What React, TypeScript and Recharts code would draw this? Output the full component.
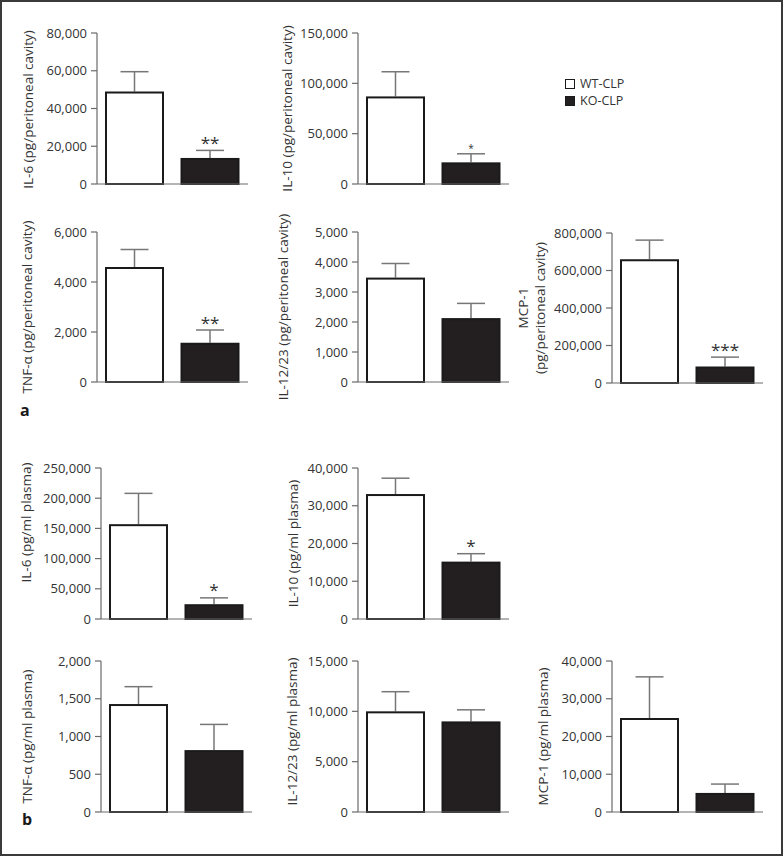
import { BarChart, Bar, XAxis, YAxis, Label } from 'recharts'

const GROUPS = ['WT-CLP', 'KO-CLP']
const GROUP_FILLS = ['#ffffff', '#231f20']

// a: peritoneal cavity (mean, upper SEM)
const IL6_PERITONEAL = [49000, 13800]
const IL6_PERITONEAL_SEM = [10500, 4000]
const IL10_PERITONEAL = [87000, 21500]
const IL10_PERITONEAL_SEM = [24500, 8500]
const TNF_PERITONEAL = [4600, 1570]
const TNF_PERITONEAL_SEM = [700, 510]
const IL1223_PERITONEAL = [3480, 2130]
const IL1223_PERITONEAL_SEM = [470, 490]
const MCP1_PERITONEAL = [660000, 88000]
const MCP1_PERITONEAL_SEM = [102000, 50000]

// b: plasma
const IL6_PLASMA = [157000, 24500]
const IL6_PLASMA_SEM = [51000, 10500]
const IL10_PLASMA = [33100, 15200]
const IL10_PLASMA_SEM = [4200, 2100]
const TNF_PLASMA = [1430, 820]
const TNF_PLASMA_SEM = [230, 340]
const IL1223_PLASMA = [10000, 9000]
const IL1223_PLASMA_SEM = [1950, 1150]
const MCP1_PLASMA = [24900, 5050]
const MCP1_PLASMA_SEM = [10900, 2350]

// tick labels
const TICKS_IL6_PERITONEAL = [0, 20000, 40000, 60000, 80000]
const TICKS_IL10_PERITONEAL = [0, 50000, 100000, 150000]
const TICKS_TNF_PERITONEAL = [0, 2000, 4000, 6000]
const TICKS_IL1223_PERITONEAL = [0, 1000, 2000, 3000, 4000, 5000]
const TICKS_MCP1_PERITONEAL = [0, 200000, 400000, 600000, 800000]
const TICKS_IL6_PLASMA = [0, 50000, 100000, 150000, 200000, 250000]
const TICKS_IL10_PLASMA = [0, 10000, 20000, 30000, 40000]
const TICKS_TNF_PLASMA = [0, 500, 1000, 1500, 2000]
const TICKS_IL1223_PLASMA = [0, 5000, 10000, 15000]
const TICKS_MCP1_PLASMA = [0, 10000, 20000, 30000, 40000]

const FONT = "'Open Sans', 'DejaVu Sans', sans-serif"
const TEXT = '#333333'
const AXIS = '#6a6a6a'
const ERR = '#777777'
const Y_AXIS_W = 100
const PLOT_W = 151
const PAD = 30

type Panel = {
    title: string[]
    means: number[]
    sems: number[]
    ticks: number[]
    star: string
    starSize: number
    axisX: number
    topY: number
    zeroY: number
    labelDist: number[]
    labelDy: number
}

const PANELS: Panel[] = [
    { title: ['IL-6 (pg/peritoneal cavity)'], means: IL6_PERITONEAL, sems: IL6_PERITONEAL_SEM, ticks: TICKS_IL6_PERITONEAL, star: '**', starSize: 17, axisX: 97, topY: 33, zeroY: 184, labelDist: [69], labelDy: 1 },
    { title: ['IL-10 (pg/peritoneal cavity)'], means: IL10_PERITONEAL, sems: IL10_PERITONEAL_SEM, ticks: TICKS_IL10_PERITONEAL, star: '*', starSize: 10, axisX: 358, topY: 33, zeroY: 184, labelDist: [71], labelDy: 0 },
    { title: ['TNF-α (pg/peritoneal cavity)'], means: TNF_PERITONEAL, sems: TNF_PERITONEAL_SEM, ticks: TICKS_TNF_PERITONEAL, star: '**', starSize: 17, axisX: 97, topY: 232, zeroY: 382, labelDist: [70], labelDy: 0 },
    { title: ['IL-12/23 (pg/peritoneal cavity)'], means: IL1223_PERITONEAL, sems: IL1223_PERITONEAL_SEM, ticks: TICKS_IL1223_PERITONEAL, star: '', starSize: 17, axisX: 358, topY: 232, zeroY: 382, labelDist: [75], labelDy: 0 },
    { title: ['MCP-1', '(pg/peritoneal cavity)'], means: MCP1_PERITONEAL, sems: MCP1_PERITONEAL_SEM, ticks: TICKS_MCP1_PERITONEAL, star: '***', starSize: 17, axisX: 612, topY: 233, zeroY: 383, labelDist: [89, 72], labelDy: 0 },
    { title: ['IL-6 (pg/ml plasma)'], means: IL6_PLASMA, sems: IL6_PLASMA_SEM, ticks: TICKS_IL6_PLASMA, star: '*', starSize: 17, axisX: 101, topY: 468, zeroY: 619, labelDist: [75], labelDy: -21 },
    { title: ['IL-10 (pg/ml plasma)'], means: IL10_PLASMA, sems: IL10_PLASMA_SEM, ticks: TICKS_IL10_PLASMA, star: '*', starSize: 17, axisX: 358, topY: 468, zeroY: 619, labelDist: [65], labelDy: 0 },
    { title: ['TNF-α (pg/ml plasma)'], means: TNF_PLASMA, sems: TNF_PLASMA_SEM, ticks: TICKS_TNF_PLASMA, star: '', starSize: 17, axisX: 101, topY: 661, zeroY: 812, labelDist: [74], labelDy: 0 },
    { title: ['IL-12/23 (pg/ml plasma)'], means: IL1223_PLASMA, sems: IL1223_PLASMA_SEM, ticks: TICKS_IL1223_PLASMA, star: '', starSize: 17, axisX: 358, topY: 661, zeroY: 812, labelDist: [66], labelDy: -5 },
    { title: ['MCP-1 (pg/ml plasma)'], means: MCP1_PLASMA, sems: MCP1_PLASMA_SEM, ticks: TICKS_MCP1_PLASMA, star: '', starSize: 17, axisX: 612, topY: 661, zeroY: 812, labelDist: [69], labelDy: 0 },
]

// bar + upper error whisker + significance stars
const BarWithError = (props: any) => {
    const { x, y, width, height, payload } = props
    if (!payload || !height) return null
    const cx = x + width / 2
    const errTop = y - (height * payload.sem) / payload.mean
    return (
        <g>
            <line x1={cx} y1={y} x2={cx} y2={errTop} stroke={ERR} strokeWidth={1.5} />
            <line x1={cx - 14} y1={errTop} x2={cx + 14} y2={errTop} stroke={ERR} strokeWidth={1.5} />
            <rect x={x + 1} y={y + 1} width={width - 2} height={height - 1} fill={payload.fill} stroke="#1a1a1a" strokeWidth={2} />
            {payload.star && (
                <text x={cx} y={errTop - 1.5} textAnchor="middle" fontSize={payload.starSize} fill={TEXT} fontFamily={FONT}>
                    {payload.star}
                </text>
            )}
        </g>
    )
}

const yLabel = (lines: string[], dists: number[], dy: number) => (props: any) => {
    const vb = props.viewBox || { x: 0, y: PAD, width: Y_AXIS_W, height: 150 }
    const cy = vb.y + vb.height / 2 + dy
    return (
        <g>
            {lines.map((line, i) => {
                const cx = vb.x + vb.width - dists[i]
                return (
                    <text key={i} x={cx} y={cy} transform={`rotate(-90, ${cx}, ${cy})`} textAnchor="middle"
                        dominantBaseline="central" fontSize={13.5} fill={TEXT} fontFamily={FONT}>
                        {line}
                    </text>
                )
            })}
        </g>
    )
}

function CytokinePanel({ p }: { p: Panel }) {
    const data = GROUPS.map((g, i) => ({
        group: g,
        mean: p.means[i],
        sem: p.sems[i],
        fill: GROUP_FILLS[i],
        star: i === 1 ? p.star : '',
        starSize: p.starSize
    }))
    const plotH = p.zeroY - p.topY
    return (
        <div style={{ position: 'absolute', left: p.axisX - Y_AXIS_W, top: p.topY - PAD }}>
            <BarChart width={Y_AXIS_W + PLOT_W + 2} height={plotH + PAD * 2 + 1} data={data}
                margin={{ top: PAD, right: 2, bottom: PAD, left: 0 }} barSize={59}>
                <XAxis dataKey="group" tick={false} tickLine={false} height={1} axisLine={{ stroke: AXIS, strokeWidth: 1.2 }} />
                <YAxis width={Y_AXIS_W} domain={[0, p.ticks[p.ticks.length - 1]]} ticks={p.ticks} interval={0}
                    tickFormatter={(v) => v.toLocaleString('en-US')} tickSize={6} tickMargin={4}
                    axisLine={{ stroke: AXIS, strokeWidth: 1.2 }} tickLine={{ stroke: AXIS, strokeWidth: 1.2 }}
                    tick={{ fill: TEXT, fontSize: 13, fontFamily: FONT }}>
                    <Label content={yLabel(p.title, p.labelDist, p.labelDy)} />
                </YAxis>
                <Bar dataKey="mean" shape={BarWithError} isAnimationActive={false} />
            </BarChart>
        </div>
    )
}

export default function App() {
    return (
        <div style={{ position: 'absolute', left: 0, top: 0, width: 783, height: 856, boxSizing: 'border-box', border: '2px solid #3a3a3a', background: '#fff', fontFamily: FONT, color: TEXT, overflow: 'hidden' }}>
            <div style={{ position: 'absolute', left: -2, top: -2, width: 783, height: 856 }}>
                {PANELS.map((p, i) => <CytokinePanel key={i} p={p} />)}
                <div style={{ position: 'absolute', left: 565, top: 76, fontSize: 12.5, lineHeight: '16.5px' }}>
                    {GROUPS.map((g, i) => (
                        <div key={g} style={{ display: 'flex', alignItems: 'center' }}>
                            <span style={{ display: 'inline-block', width: 10, height: 10, boxSizing: 'border-box', border: '1.5px solid #1a1a1a', background: GROUP_FILLS[i], marginRight: 5 }} />
                            <span>{g}</span>
                        </div>
                    ))}
                </div>
                <div style={{ position: 'absolute', left: 20, top: 399, fontSize: 16, fontWeight: 'bold', color: '#1a1a1a' }}>a</div>
                <div style={{ position: 'absolute', left: 22, top: 808, fontSize: 16, fontWeight: 'bold', color: '#1a1a1a' }}>b</div>
            </div>
        </div>
    )
}
